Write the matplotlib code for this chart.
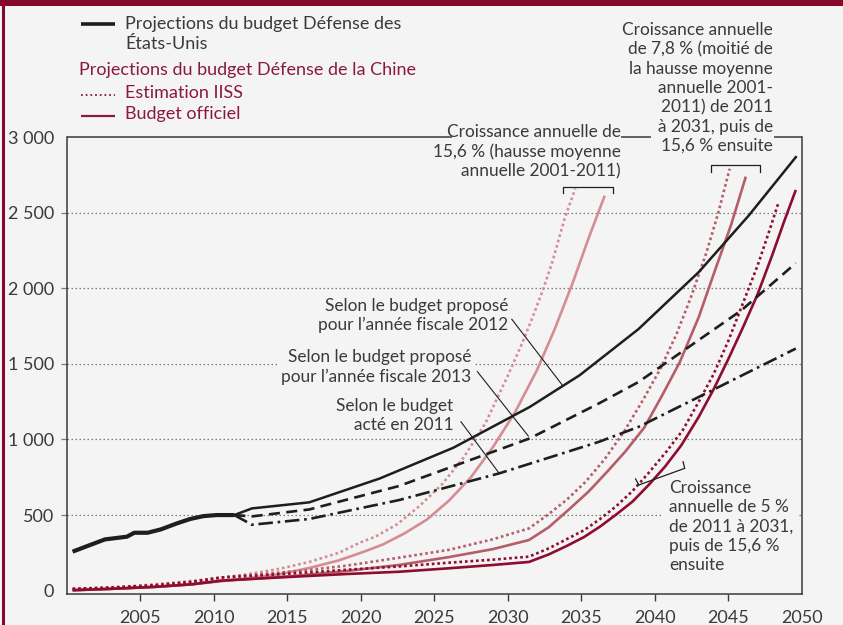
import matplotlib
matplotlib.use("Agg")
import matplotlib.pyplot as plt
from matplotlib.lines import Line2D
from matplotlib.patches import Rectangle

plt.rcParams['font.family'] = ['Lato', 'DejaVu Sans']

BG = '#f4f4f4'
TXT = '#3a3a3a'
RED = '#8a1a3c'
C_LIGHT = '#d48e93'
C_MED = '#b65d68'
C_DARK = '#8e0c30'
BLACK = '#1e1e1e'

# ---------------- data ----------------
# United States defence budget (billion USD)
us_hist_x = [2000.4, 2001.4, 2002.6, 2004.1, 2004.6, 2005.5, 2006.4, 2007.5, 2008.4, 2009.3, 2010.2, 2011.4]
us_hist = [258, 295, 339, 357, 383, 383, 405, 445, 474, 493, 500, 500]

fy2012_x = [2011.4, 2012.6, 2016.5, 2021.3, 2026.3, 2031.5, 2034.9, 2038.9, 2043.0, 2046.4, 2049.6]
fy2012 = [500, 544, 584, 742, 945, 1215, 1425, 1730, 2107, 2481, 2867]

fy2013_x = [2011.4, 2012.6, 2016.5, 2022.6, 2031.5, 2036.2, 2038.9, 2040.7, 2045.9, 2049.6]
fy2013 = [500, 491, 537, 692, 1007, 1238, 1380, 1502, 1854, 2166]

enacted_x = [2011.4, 2012.6, 2016.5, 2022.6, 2029.4, 2036.2, 2038.9, 2043.0, 2049.6]
enacted = [500, 436, 474, 599, 775, 984, 1083, 1281, 1601]

# China: 15.6 % growth from 2011
light_iiss_x = [2000.4, 2002.5, 2005.0, 2007.5, 2010.5, 2012.5, 2014.5, 2016.5, 2018.5, 2020.0, 2021.0,
                2022.5, 2024.0, 2025.5, 2027.0, 2028.5, 2030.0, 2031.0, 2031.7, 2032.4, 2033.0, 2033.9,
                2034.6]
light_iiss = [12, 20, 34, 55, 85, 112, 145, 190, 250, 320, 357, 440, 560, 700, 880, 1110, 1420, 1640,
              1810, 1990, 2162, 2470, 2659]
light_off_x = [2000.4, 2003.0, 2006.0, 2008.5, 2010.5, 2012.5, 2014.5, 2016.5, 2018.5, 2020.0, 2021.5,
               2023.0, 2024.5, 2026.0, 2027.5, 2029.0, 2030.5, 2032.0, 2033.2, 2034.4, 2035.5, 2036.6]
light_off = [3, 12, 25, 42, 62, 85, 110, 150, 200, 250, 305, 380, 470, 595, 750, 950, 1180, 1460, 1730,
             2030, 2330, 2612]

# China: 7.8 % from 2011 to 2031, then 15.6 %
med_iiss_x = [2000.4, 2003.0, 2006.0, 2008.5, 2010.5, 2013.0, 2016.0, 2019.0, 2022.6, 2026.0, 2029.0,
              2031.45, 2032.7, 2034.0, 2035.3, 2036.6, 2037.9, 2039.2, 2040.4, 2041.5, 2042.5, 2043.5,
              2044.3, 2045.1]
med_iiss = [12, 20, 36, 58, 87, 108, 132, 165, 218, 270, 340, 412, 500, 600, 720, 870, 1050, 1260, 1470,
            1700, 1950, 2230, 2490, 2790]
med_off_x = [2000.4, 2003.0, 2006.0, 2008.5, 2010.5, 2013.0, 2016.0, 2019.0, 2022.6, 2026.0, 2029.0,
             2031.45, 2032.8, 2034.2, 2035.5, 2036.8, 2038.0, 2039.3, 2040.5, 2041.7, 2043.0, 2044.0,
             2045.2, 2046.2]
med_off = [3, 12, 25, 42, 66, 80, 102, 130, 170, 222, 275, 335, 420, 540, 655, 790, 920, 1080, 1290, 1510,
           1810, 2090, 2420, 2738]

# China: 5 % from 2011 to 2031, then 15.6 %
dark_iiss_x = [2000.4, 2003.0, 2006.0, 2008.5, 2010.5, 2013.0, 2016.0, 2019.0, 2022.6, 2026.0, 2029.0,
               2031.45, 2032.8, 2034.0, 2035.2, 2036.3, 2037.4, 2038.5, 2039.6, 2040.8, 2041.9, 2043.0,
               2044.0, 2045.0, 2046.0, 2047.0, 2047.8, 2048.4]
dark_iiss = [12, 20, 36, 58, 87, 100, 118, 138, 160, 185, 205, 225, 280, 340, 400, 475, 560, 660, 780,
             920, 1060, 1250, 1430, 1650, 1900, 2150, 2380, 2560]
dark_off_x = [2000.4, 2003.0, 2006.0, 2008.5, 2010.5, 2013.0, 2016.0, 2019.0, 2022.6, 2026.0, 2029.0,
              2031.45, 2032.8, 2034.0, 2035.2, 2036.3, 2037.4, 2038.5, 2039.6, 2040.7, 2041.8, 2043.0,
              2044.0, 2045.0, 2046.0, 2047.0, 2048.0, 2048.8, 2049.6]
dark_off = [3, 12, 25, 42, 66, 80, 95, 110, 125, 148, 170, 190, 240, 295, 355, 425, 505, 590, 700, 820,
            960, 1150, 1330, 1530, 1740, 1960, 2220, 2440, 2650]

x_ticks = [2005, 2010, 2015, 2020, 2025, 2030, 2035, 2040, 2045, 2050]
y_ticks = [0, 500, 1000, 1500, 2000, 2500, 3000]
y_labels = ['0', '500', '1 000', '1 500', '2 000', '2 500', '3 000']

# ---------------- figure ----------------
W, H = 843, 625
fig = plt.figure(figsize=(W / 100, H / 100), dpi=100, facecolor=BG)
ax = fig.add_axes([66.7 / W, 1 - 594.3 / H, (801.7 - 66.7) / W, (594.3 - 137.0) / H], facecolor=BG)
ax.set_xlim(2000, 2050)
ax.set_ylim(-24, 3000)

# gridlines
for v in y_ticks[1:-1]:
    ax.axhline(v, color='#7a7a7a', lw=0.9, ls=(0, (1.2, 2.0)), zorder=1)

dot = (0, (1, 1.1))
kw_dot = dict(lw=1.9, ls=dot, zorder=4)
kw_sol = dict(lw=1.9, zorder=4, solid_capstyle='butt')

ax.plot(light_iiss_x, light_iiss, color=C_LIGHT, **kw_dot)
ax.plot(light_off_x, light_off, color=C_LIGHT, **kw_sol)
ax.plot(med_iiss_x, med_iiss, color=C_MED, **kw_dot)
ax.plot(med_off_x, med_off, color=C_MED, **kw_sol)
ax.plot(dark_iiss_x, dark_iiss, color=C_DARK, **kw_dot)
ax.plot(dark_off_x, dark_off, color=C_DARK, **kw_sol)

ax.plot(fy2012_x, fy2012, color=BLACK, lw=1.8, zorder=5, solid_joinstyle='miter')
ax.plot(fy2013_x, fy2013, color=BLACK, lw=1.9, ls=(0, (4.2, 2.4)), zorder=5)
ax.plot(enacted_x, enacted, color=BLACK, lw=1.9, ls=(0, (5.5, 1.8, 1.0, 1.8)), zorder=5)
ax.plot(us_hist_x, us_hist, color=BLACK, lw=3.0, zorder=6, solid_capstyle='butt')

# axes styling
ax.spines['top'].set_visible(False)
for s in ['left', 'right', 'bottom']:
    ax.spines[s].set_color('#3a3a3a')
    ax.spines[s].set_linewidth(1.1)
# top border drawn in pieces (interrupted by the annotations)
for x0, x1 in [(2000, 2026.23), (2037.68, 2039.74), (2048.09, 2050)]:
    ax.plot([x0, x1], [3000, 3000], color='#3a3a3a', lw=1.1, clip_on=False, zorder=2,
            solid_capstyle='butt')

ax.set_xticks(x_ticks)
ax.set_xticklabels([str(t) for t in x_ticks])
ax.set_yticks(y_ticks)
ax.set_yticklabels(y_labels)
ax.tick_params(axis='x', direction='out', length=5, width=1.0, color='#3a3a3a',
               labelsize=13, labelcolor=TXT, pad=6.5)
ax.tick_params(axis='y', direction='out', length=4, width=0.9, color='#7a7a7a',
               labelsize=13, labelcolor=TXT, pad=5)
xt = ax.xaxis.get_major_ticks()
xt[-1].tick1line.set_visible(False)
yt = ax.yaxis.get_major_ticks()
yt[0].tick1line.set_visible(False)
yt[-1].tick1line.set_visible(False)

# ---------------- annotations ----------------
FS = 12.4
LS = 1.25
bb = dict(boxstyle='square,pad=0.15', facecolor=BG, edgecolor='none')
ax.text(2030.03, 1820, "Selon le budget proposé\npour l\u2019année fiscale 2012", ha='right', va='center',
        fontsize=FS, color=TXT, zorder=3, bbox=bb, linespacing=LS)
ax.plot([2030.28, 2033.71], [1795, 1360], color=BLACK, lw=0.8, zorder=7)
ax.text(2027.5, 1481, "Selon le budget proposé\npour l\u2019année fiscale 2013", ha='right', va='center',
        fontsize=FS, color=TXT, zorder=3, bbox=bb, linespacing=LS)
ax.plot([2027.94, 2031.4], [1448, 1023], color=BLACK, lw=0.8, zorder=7)
ax.text(2026.3, 1158, "Selon le budget\nacté en 2011", ha='right', va='center',
        fontsize=FS, color=TXT, zorder=3, bbox=bb, linespacing=LS)
ax.plot([2026.82, 2029.42], [1117, 776], color=BLACK, lw=0.8, zorder=7)

ax.text(2037.68, 2901, "Croissance annuelle de\n15,6 % (hausse moyenne\nannuelle 2001-2011)", ha='right',
        va='center', fontsize=FS, color=TXT, zorder=3, linespacing=LS)
ax.plot([2033.76, 2033.76, 2037.16, 2037.16], [2630, 2671, 2671, 2630], color=BLACK, lw=0.9, zorder=7)

ax.text(2048.04, 3324, "Croissance annuelle\nde 7,8 % (moitié de\nla hausse moyenne\nannuelle 2001-\n2011) de 2011\nà 2031, puis de\n15,6 % ensuite",
        ha='right', va='center', fontsize=FS, color=TXT, zorder=3, linespacing=LS)
ax.plot([2043.86, 2043.86, 2047.18, 2047.18], [2771, 2815, 2815, 2771], color=BLACK, lw=0.9,
        zorder=7, clip_on=False)

ax.text(2040.96, 423, "Croissance\nannuelle de 5 %\nde 2011 à 2031,\npuis de 15,6 %\nensuite", ha='left',
        va='center', fontsize=FS, color=TXT, zorder=3, bbox=dict(boxstyle='square,pad=0.35', facecolor=BG,
                                                                edgecolor='none'), linespacing=LS)
ax.plot([2038.70, 2038.92, 2042.04, 2041.93], [739, 699, 809, 853], color=BLACK, lw=0.9, zorder=7)

# ---------------- legend (drawn by hand) ----------------
def fx(px):
    return px / W


def fy(py):
    return 1 - py / H


LFS = 13
fig.add_artist(Line2D([fx(81), fx(115)], [fy(23.5), fy(23.5)], color=BLACK, lw=2.6, solid_capstyle='butt'))
fig.text(fx(125), fy(24), "Projections du budget Défense des", fontsize=LFS, color=TXT, va='center')
fig.text(fx(125), fy(44), "États-Unis", fontsize=LFS, color=TXT, va='center')
fig.text(fx(79), fy(70.5), "Projections du budget Défense de la Chine", fontsize=LFS, color=RED, va='center')
fig.add_artist(Line2D([fx(81), fx(115)], [fy(95), fy(95)], color=RED, lw=1.3, ls=(0, (1, 1.6))))
fig.text(fx(125), fy(93), "Estimation IISS", fontsize=LFS, color=RED, va='center')
fig.add_artist(Line2D([fx(81), fx(115)], [fy(115.5), fy(115.5)], color=RED, lw=1.6, solid_capstyle='butt'))
fig.text(fx(125), fy(113.5), "Budget officiel", fontsize=LFS, color=RED, va='center')

# frame of the page
fig.add_artist(Rectangle((0, fy(6)), 1, 6 / H, transform=fig.transFigure, facecolor='#86092b',
                         edgecolor='none'))
fig.add_artist(Line2D([fx(3.2), fx(3.2)], [0, 1], color='#86092b', lw=2.2))

fig.savefig('out.png', dpi=100, facecolor=BG)
